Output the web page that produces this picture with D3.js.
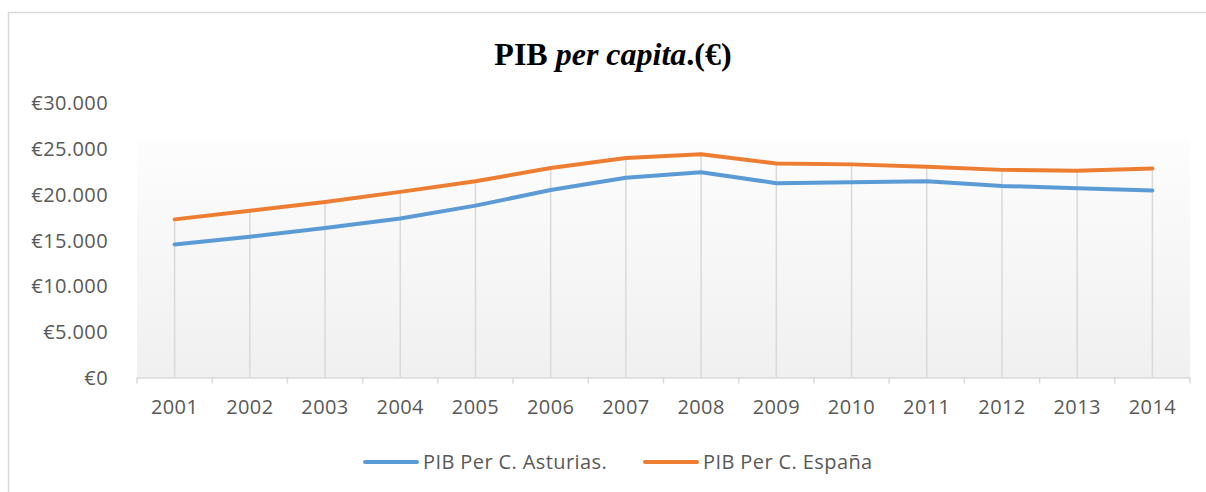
<!DOCTYPE html>
<html>
<head>
<meta charset="utf-8">
<script src="https://cdn.jsdelivr.net/npm/d3@7"></script>
<style>
  body { margin: 0; background: #fff; }
  svg { display: block; }
  .lbl { font-family: "Open Sans", sans-serif; font-size: 20px; fill: #595959; letter-spacing: 0.4px; }
</style>
</head>
<body>
<svg id="chart" width="1206" height="492"></svg>
<script>
// data
var years = ['2001','2002','2003','2004','2005','2006','2007','2008','2009','2010','2011','2012','2013','2014'];
var asturias = [14500, 15350, 16300, 17350, 18750, 20450, 21800, 22400, 21200, 21300, 21400, 20900, 20650, 20400];
var espana = [17250, 18200, 19150, 20250, 21400, 22850, 23950, 24350, 23350, 23250, 23000, 22650, 22550, 22800];
var yTicks = [0, 5000, 10000, 15000, 20000, 25000, 30000];
var seriesNames = ['PIB Per C. Asturias.', 'PIB Per C. España'];
var colors = ['#5b9bd5', '#ed7d31'];

var svg = d3.select('#chart');

// outer chart frame
svg.append('rect')
    .attr('x', 8.5).attr('y', 12.5)
    .attr('width', 1220).attr('height', 500)
    .attr('fill', '#fff')
    .attr('stroke', '#d9d9d9')
    .attr('stroke-width', 1.5);

var plot = {left: 137, right: 1190, top: 102.5, bottom: 377.5};

var x = d3.scaleBand()
    .domain(years)
    .range([plot.left, plot.right]);

var y = d3.scaleLinear()
    .domain([0, 30000])
    .range([plot.bottom, plot.top]);

// plot background gradient
var grad = svg.append('defs').append('linearGradient')
    .attr('id', 'bg').attr('x1', 0).attr('y1', 0).attr('x2', 0).attr('y2', 1);
grad.append('stop').attr('offset', '0%').attr('stop-color', '#fdfdfd');
grad.append('stop').attr('offset', '100%').attr('stop-color', '#f0f0f0');

svg.append('rect')
    .attr('x', plot.left).attr('y', 139)
    .attr('width', plot.right - plot.left)
    .attr('height', plot.bottom - 139)
    .attr('fill', 'url(#bg)');

// title
var title = svg.append('text')
    .attr('x', 613).attr('y', 65)
    .attr('text-anchor', 'middle')
    .style('font-family', '"Liberation Serif", "Times New Roman", serif')
    .style('font-size', '32px')
    .style('font-weight', 'bold')
    .style('fill', '#000');
title.append('tspan').text('PIB ');
title.append('tspan').style('font-style', 'italic').text('per capita');
title.append('tspan').text('.(€)');

// drop lines
svg.append('g').selectAll('line')
    .data(years)
  .enter().append('line')
    .attr('x1', function(d) { return x(d) + x.bandwidth() / 2; })
    .attr('x2', function(d) { return x(d) + x.bandwidth() / 2; })
    .attr('y1', function(d, i) { return y(Math.max(asturias[i], espana[i])); })
    .attr('y2', plot.bottom)
    .attr('stroke', '#d9d9d9')
    .attr('stroke-width', 1.5);

// y axis labels
svg.append('g')
    .attr('transform', 'translate(108,0)')
    .call(d3.axisLeft(y).tickValues(yTicks).tickSize(0).tickPadding(0)
        .tickFormat(function(d) { return '€' + (d === 0 ? '0' : d3.format(',')(d).replace(/,/g, '.')); }))
    .call(function(g) { g.select('.domain').remove(); })
    .selectAll('text')
    .attr('class', 'lbl')
    .attr('dy', '0.35em');

// x axis
var xAxis = svg.append('g')
    .attr('transform', 'translate(0,' + plot.bottom + ')')
    .call(d3.axisBottom(x).tickSize(0).tickPadding(22));
xAxis.select('.domain').attr('stroke', '#d9d9d9').attr('stroke-width', 1.5);
xAxis.selectAll('text').attr('class', 'lbl').attr('dy', '0.71em');

// tick marks at the band boundaries
var bounds = years.map(function(d) { return x(d); }).concat([plot.right]);
xAxis.append('g').selectAll('line')
    .data(bounds)
  .enter().append('line')
    .attr('x1', function(d) { return d; })
    .attr('x2', function(d) { return d; })
    .attr('y1', 0).attr('y2', 6)
    .attr('stroke', '#d9d9d9')
    .attr('stroke-width', 1.5);

// lines
var line = d3.line()
    .x(function(d, i) { return x(years[i]) + x.bandwidth() / 2; })
    .y(function(d) { return y(d); });

[asturias, espana].forEach(function(s, k) {
    svg.append('path')
        .datum(s)
        .attr('d', line)
        .attr('fill', 'none')
        .attr('stroke', colors[k])
        .attr('stroke-width', 4)
        .attr('stroke-linecap', 'round')
        .attr('stroke-linejoin', 'round');
});

// legend
var legendX = [365, 645];
seriesNames.forEach(function(name, k) {
    var g = svg.append('g').attr('transform', 'translate(' + legendX[k] + ',462)');
    g.append('line')
        .attr('x1', 0).attr('x2', 52)
        .attr('stroke', colors[k])
        .attr('stroke-width', 4)
        .attr('stroke-linecap', 'round');
    g.append('text')
        .attr('class', 'lbl')
        .attr('x', 58).attr('dy', '0.35em')
        .text(name);
});
</script>
</body>
</html>
